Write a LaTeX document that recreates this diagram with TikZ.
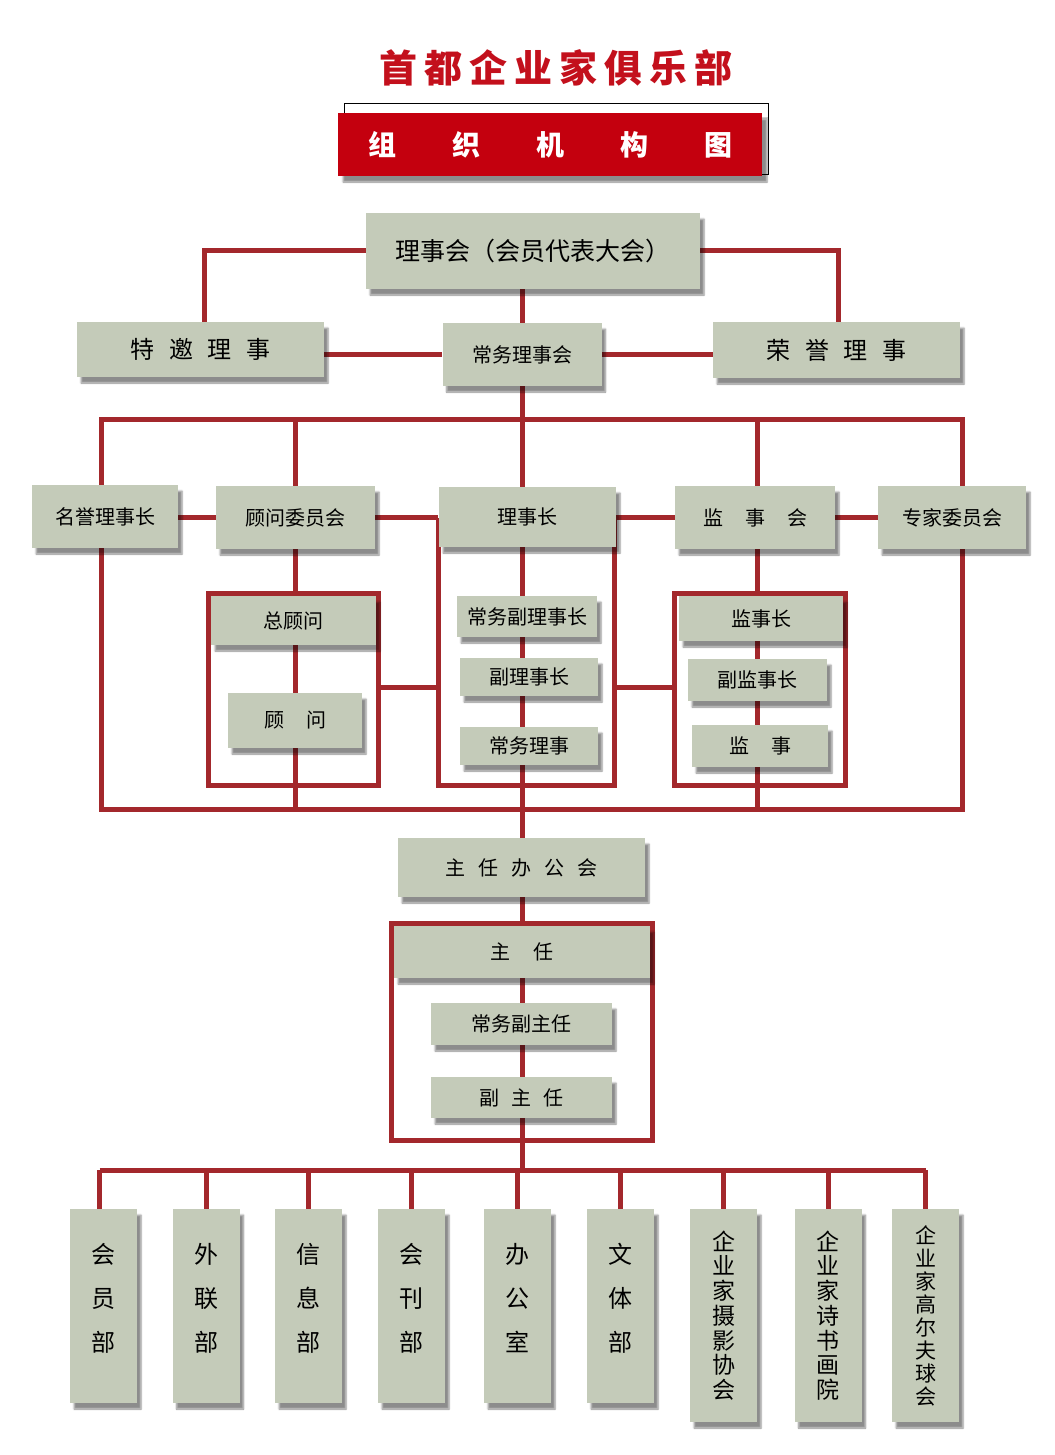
\documentclass[tikz,border=0pt]{standalone}
\usepackage{fontspec}
\newfontfamily\cjk{Noto Sans CJK SC}
\usepackage{xcolor}
\usepackage{tikz}
\usetikzlibrary{backgrounds,shadows.blur}

\definecolor{boxgreen}{HTML}{C4CBB9}
\definecolor{linered}{HTML}{A3282C}
\definecolor{titlered}{HTML}{C3101C}
\definecolor{bannerred}{HTML}{C4000E}

\begin{document}
\begin{tikzpicture}[
  x=1pt, y=-1pt,
  font=\cjk,
  box/.style={rectangle, fill=boxgreen, inner sep=0pt, align=center,
              blur shadow={shadow xshift=4pt, shadow yshift=-6pt,
                           shadow blur steps=5, shadow opacity=45}},
  link/.style={draw=linered, line width=5pt},
  bigtxt/.style={font=\cjk\fontsize{24}{28}\selectfont},
  midtxt/.style={font=\cjk\fontsize{20}{24}\selectfont},
  vtxt/.style={font=\cjk\fontsize{24}{44}\selectfont},
  vlong/.style={font=\cjk\fontsize{23}{24.7}\selectfont},
  dept/.style={box, vtxt, minimum width=67pt, minimum height=194pt, text depth=17pt},
  deptlong/.style={box, vlong, minimum width=67pt, minimum height=213pt},
]
  \useasboundingbox (0,0) rectangle (1054,1455);

  % title and banner
  \node[font=\cjk\bfseries\fontsize{38}{40}\selectfont, text=titlered] (title) at (556,68)
    {首\hspace{7pt}都\hspace{7pt}企\hspace{7pt}业\hspace{7pt}家\hspace{7pt}俱\hspace{7pt}乐\hspace{7pt}部};
  \node[draw=black, fill=white, line width=1pt, minimum width=424pt, minimum height=71pt] (bannerback) at (556,139.5) {};
  \node[rectangle, fill=bannerred, minimum width=424pt, minimum height=63pt, text=white,
        font=\cjk\bfseries\fontsize{28}{30}\selectfont,
        blur shadow={shadow xshift=5pt, shadow yshift=-6pt, shadow blur steps=5, shadow opacity=45}] (banner) at (550,144.5)
    {组\qquad 织\qquad 机\qquad 构\qquad 图};

  % council level
  \node[box, font=\cjk\fontsize{25}{28}\selectfont, minimum width=334pt, minimum height=76pt] (council) at (533,251) {理事会（会员代表大会）};
  \node[box, bigtxt, minimum width=247pt, minimum height=55pt] (teyao) at (200.5,349.5)
    {特\hspace{0.6em}邀\hspace{0.6em}理\hspace{0.6em}事};
  \node[box, midtxt, minimum width=159pt, minimum height=63pt] (cwlsh) at (522,354.5) {常务理事会};
  \node[box, bigtxt, minimum width=247pt, minimum height=56pt] (rongyu) at (836.5,350)
    {荣\hspace{0.6em}誉\hspace{0.6em}理\hspace{0.6em}事};

  % second row
  \node[box, midtxt, minimum width=146pt, minimum height=63pt] (mingyu) at (105,516.5) {名誉理事长};
  \node[box, midtxt, minimum width=159pt, minimum height=63pt] (gwwyh) at (295.5,517.5) {顾问委员会};
  \node[box, midtxt, minimum width=177pt, minimum height=60pt] (lsz) at (527.5,517) {理事长};
  \node[box, midtxt, minimum width=160pt, minimum height=63pt] (jsh) at (755,517.5)
    {监\hspace{1.1em}事\hspace{1.1em}会};
  \node[box, midtxt, minimum width=148pt, minimum height=63pt] (zjwyh) at (952,517.5) {专家委员会};

  % groups under the second row
  \coordinate (gwTL) at (208,593);  \coordinate (gwBR) at (378,785);
  \coordinate (lszTL) at (438,520); \coordinate (lszBR) at (614,785);
  \coordinate (jsTL) at (674,593);  \coordinate (jsBR) at (845,785);
  \coordinate (busTL) at (101,419); \coordinate (busBR) at (962,809);
  \coordinate (midrow) at (0,687);

  \node[box, midtxt, minimum width=165pt, minimum height=49pt] (zgw) at (293.5,620.5) {总顾问};
  \node[box, midtxt, minimum width=134pt, minimum height=55pt] (gw) at (295,720.5)
    {顾\hspace{1.1em}问};

  \node[box, midtxt, minimum width=140pt, minimum height=41pt] (cwflsz) at (527,616.5) {常务副理事长};
  \node[box, midtxt, minimum width=138pt, minimum height=38pt] (flsz) at (529,677) {副理事长};
  \node[box, midtxt, minimum width=138pt, minimum height=38pt] (cwls) at (529,746) {常务理事};

  \node[box, midtxt, minimum width=164pt, minimum height=45pt] (jsz) at (761,618.5) {监事长};
  \node[box, midtxt, minimum width=139pt, minimum height=42pt] (fjsz) at (757.5,680) {副监事长};
  \node[box, midtxt, minimum width=136pt, minimum height=42pt] (js) at (760,746)
    {监\hspace{1.1em}事};

  % office
  \node[box, midtxt, minimum width=247pt, minimum height=59pt] (zrbgh) at (521.5,867.5)
    {主\hspace{0.65em}任\hspace{0.65em}办\hspace{0.65em}公\hspace{0.65em}会};
  \coordinate (zrTL) at (391,923); \coordinate (zrBR) at (652,1140);
  \node[box, midtxt, minimum width=256pt, minimum height=52pt] (zr) at (522,952)
    {主\hspace{1.2em}任};
  \node[box, midtxt, minimum width=181pt, minimum height=42pt] (cwfzr) at (521.5,1024) {常务副主任};
  \node[box, midtxt, minimum width=181pt, minimum height=41pt] (fzr) at (521.5,1097.5)
    {副\hspace{0.6em}主\hspace{0.6em}任};

  % departments
  \coordinate (botbus) at (0,1170);
  \node[dept] (hyb) at (103.5,1306) {会\\员\\部};
  \node[dept] (wlb) at (206,1306) {外\\联\\部};
  \node[dept] (xxb) at (308.5,1306) {信\\息\\部};
  \node[dept] (hkb) at (411.5,1306) {会\\刊\\部};
  \node[dept] (bgs) at (517.5,1306) {办\\公\\室};
  \node[dept] (wtb) at (620.5,1306) {文\\体\\部};
  \node[deptlong] (sy) at (723.5,1315.5) {企\\业\\家\\摄\\影\\协\\会};
  \node[deptlong] (ssh) at (828,1315.5) {企\\业\\家\\诗\\书\\画\\院};
  \node[deptlong, font=\cjk\fontsize{21}{23}\selectfont] (gef) at (925.5,1315.5) {企\\业\\家\\高\\尔\\夫\\球\\会};

  \begin{scope}[on background layer]
    % upper links
    \draw[link] (council.west) -| ([xshift=4pt]teyao.north);
    \draw[link] (council.east) -| ([xshift=2pt]rongyu.north);
    \draw[link] (cwlsh.north) -- (cwlsh.north |- council.south);
    \draw[link] (teyao.east |- cwlsh) -- (cwlsh.west);
    \draw[link] (cwlsh.east) -- (rongyu.west |- cwlsh);
    % big frame and spines
    \draw[link] (busTL) rectangle (busBR);
    \draw[link] (cwlsh.south) -- (cwlsh.south |- botbus);
    \draw[link] (gwwyh.north |- busTL) -- (gwwyh.north |- busBR);
    \draw[link] ([xshift=2pt]jsh.north |- busTL) -- ([xshift=2pt]jsh.north |- busBR);
    % second row links
    \draw[link] (mingyu.east |- gwwyh) -- (gwwyh.west);
    \draw[link] (gwwyh.east) -- (gwwyh.east -| lszTL);
    \draw[link] (lsz.east |- jsh) -- (jsh.west);
    \draw[link] (jsh.east) -- (zjwyh.west);
    % group frames
    \draw[link] (gwTL) rectangle (gwBR);
    \draw[link] (lszTL) rectangle (lszBR);
    \draw[link] (jsTL) rectangle (jsBR);
    \draw[link] (gwBR |- midrow) -- (lszTL |- midrow);
    \draw[link] (lszBR |- midrow) -- (jsTL |- midrow);
    % office frame
    \draw[link] (zrTL) rectangle (zrBR);
    % department bus
    \draw[link] ([xshift=-4pt]hyb.north |- botbus) -- (gef.north |- botbus);
    \draw[link] ([xshift=-4pt]hyb.north) -- ([xshift=-4pt]hyb.north |- botbus);
    \draw[link] (wlb.north) -- (wlb.north |- botbus);
    \draw[link] (xxb.north) -- (xxb.north |- botbus);
    \draw[link] (hkb.north) -- (hkb.north |- botbus);
    \draw[link] (bgs.north) -- (bgs.north |- botbus);
    \draw[link] (wtb.north) -- (wtb.north |- botbus);
    \draw[link] (sy.north) -- (sy.north |- botbus);
    \draw[link] (ssh.north) -- (ssh.north |- botbus);
    \draw[link] (gef.north) -- (gef.north |- botbus);
  \end{scope}
\end{tikzpicture}
\end{document}
